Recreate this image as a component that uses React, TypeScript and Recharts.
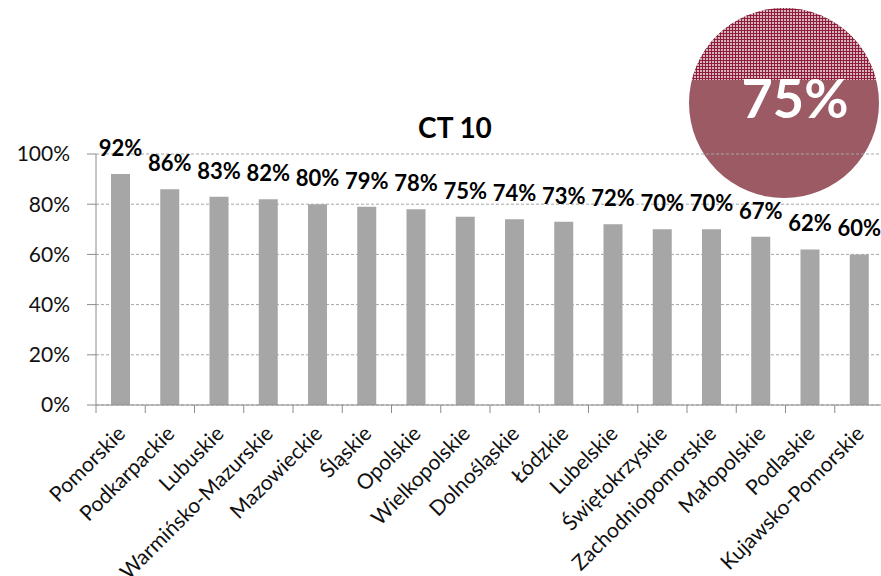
import { BarChart, Bar, XAxis, YAxis, CartesianGrid, LabelList } from 'recharts';

const regions = [
  'Pomorskie', 'Podkarpackie', 'Lubuskie', 'Warmińsko-Mazurskie', 'Mazowieckie', 'Śląskie',
  'Opolskie', 'Wielkopolskie', 'Dolnośląskie', 'Łódzkie', 'Lubelskie', 'Świętokrzyskie',
  'Zachodniopomorskie', 'Małopolskie', 'Podlaskie', 'Kujawsko-Pomorskie',
];
const shares = [92, 86, 83, 82, 80, 79, 78, 75, 74, 73, 72, 70, 70, 67, 62, 60];
const yTicks = [0, 20, 40, 60, 80, 100];
const title = 'CT 10';
const overall = '75%';

const data = regions.map((name, i) => ({ name, value: shares[i] }));

const FONT = 'Lato, "Open Sans", sans-serif';
const W = 884;
const H = 576;
const LEFT = 96;
const band = (W - LEFT) / regions.length;

// category label rotated like Excel, plus tick mark at the category boundary
const XTick = (props: any) => {
  const { x, y, payload } = props;
  const bx = x - band / 2;
  return (
    <g>
      <line x1={bx} y1={y} x2={bx} y2={y + 8} stroke="#8c8c8c" strokeWidth={1} />
      <text
        transform={`translate(${x + 6},${y + 30}) rotate(-45)`}
        textAnchor="end"
        fontSize={21}
        fontFamily={FONT}
        fill="#111"
      >
        {payload.value}
      </text>
    </g>
  );
};

export default function App() {
  return (
    <div style={{ position: 'absolute', left: 0, top: 0, width: 881, height: H, overflow: 'hidden', background: '#fff' }}>
      {/* badge + title, sits behind the grid */}
      <svg width={881} height={H} style={{ position: 'absolute', left: 0, top: 0 }}>
        <defs>
          <pattern id="hatch" width="3" height="3" patternUnits="userSpaceOnUse">
            <rect width="3" height="3" fill="#d7b3bb" />
            <path d="M0 0.5 H3 M0.5 0 V3" stroke="#8e1d3c" strokeWidth={1} />
          </pattern>
          <clipPath id="topHalf">
            <rect x={680} y={0} width={220} height={80} />
          </clipPath>
        </defs>
        <circle cx={784} cy={103} r={95} fill="#9c5a65" />
        <circle cx={784} cy={103} r={95} fill="url(#hatch)" clipPath="url(#topHalf)" />
        <text x={795} y={118} textAnchor="middle" fontSize={54} fontWeight={700} fontFamily={FONT} fill="#ffffff">
          {overall}
        </text>
        <text x={455} y={138} textAnchor="middle" fontSize={28} fontWeight={700} fontFamily={FONT} fill="#000">
          {title}
        </text>
      </svg>
      <div style={{ position: 'absolute', left: 0, top: 0 }}>
        <BarChart width={W} height={H} data={data} margin={{ top: 154, right: 0, bottom: 0, left: 0 }} barSize={19}>
          <CartesianGrid vertical={false} stroke="#a6a6a6" strokeDasharray="3 2" />
          <XAxis
            dataKey="name"
            interval={0}
            tickLine={false}
            tickSize={0}
            tickMargin={0}
            tick={<XTick />}
            axisLine={{ stroke: '#8c8c8c' }}
            height={171}
          />
          <YAxis
            domain={[0, 100]}
            ticks={yTicks}
            width={LEFT}
            tickSize={9}
            tickMargin={17}
            tickFormatter={(v) => `${v}%`}
            tick={{ fontSize: 21, fontFamily: FONT, fill: '#111' }}
            tickLine={{ stroke: '#8c8c8c' }}
            axisLine={{ stroke: '#8c8c8c' }}
          />
          <Bar dataKey="value" fill="#a6a6a6" isAnimationActive={false}>
            <LabelList
              dataKey="value"
              position="top"
              offset={18}
              formatter={(v: any) => `${v}%`}
              style={{ fontSize: 22, fontWeight: 700, fontFamily: FONT, fill: '#000' }}
            />
          </Bar>
        </BarChart>
      </div>
    </div>
  );
}
